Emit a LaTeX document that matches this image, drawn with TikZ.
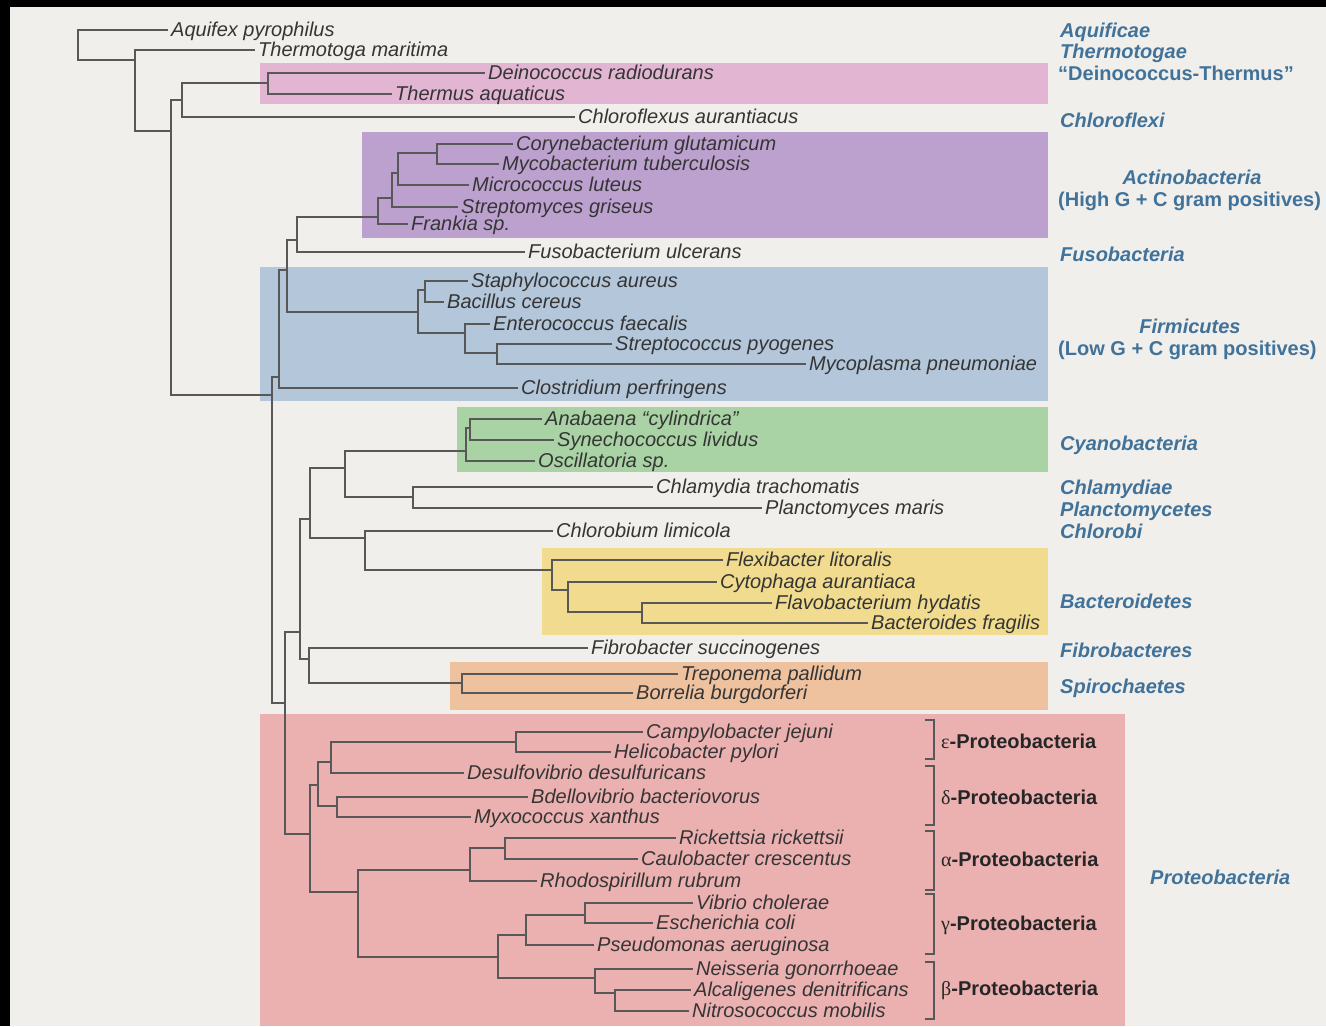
\documentclass[tikz,border=0pt]{standalone}
\usepackage{fontspec}
\setmainfont{Liberation Sans}
\newfontfamily\grkfont{Liberation Serif}
\definecolor{bgcol}{HTML}{F1EFEB}
\definecolor{linegray}{HTML}{585858}
\definecolor{leafgray}{HTML}{353535}
\definecolor{grpblue}{HTML}{40729A}
\definecolor{cDein}{HTML}{E2B5D2}
\definecolor{cActi}{HTML}{BCA1CF}
\definecolor{cFirm}{HTML}{B3C6DA}
\definecolor{cCyan}{HTML}{A9D3A4}
\definecolor{cBact}{HTML}{F0DB8E}
\definecolor{cSpir}{HTML}{EEC19F}
\definecolor{cProt}{HTML}{EBB1B1}
\newcommand\clade[3]{\draw[br] (#2) -| (#1 |- #3) -- (#3);}
\newcommand\leafnode[4]{\coordinate (#1-e) at (#2,#3);
  \node[leaf] (#1) at ([yshift=-6.5pt]#1-e) {#4};}
\begin{document}
\begin{tikzpicture}[x=1pt,y=-1pt,
  br/.style={draw=linegray, line width=1.25pt},
  leaf/.style={anchor=base west, inner xsep=3pt, inner ysep=0pt, font=\fontsize{20}{22}\selectfont\itshape, text=leafgray},
  grp/.style={anchor=base west, inner sep=0pt, font=\fontsize{20}{22}\selectfont\bfseries\itshape, text=grpblue},
  grpup/.style={anchor=base west, inner sep=0pt, font=\fontsize{20}{22}\selectfont\bfseries, text=grpblue},
  sub/.style={anchor=base west, inner sep=0pt, font=\fontsize{20}{22}\selectfont\bfseries, text=black!85},
  brk/.style={draw=linegray, line width=1.2pt}]
\useasboundingbox (0,0) rectangle (1326,1026);
\fill[bgcol] (0,0) rectangle (1326,1026);
\fill[black] (0,0) rectangle (1326,7);
\fill[black] (0,0) rectangle (10,1026);
% coloured boxes
\fill[cDein] (260,63) rectangle (1048,104);
\fill[cActi] (362,132) rectangle (1048,238);
\fill[cFirm] (260,267) rectangle (1048,401);
\fill[cCyan] (457,407) rectangle (1048,472);
\fill[cBact] (542,548) rectangle (1048,635);
\fill[cSpir] (450,662) rectangle (1048,710);
\fill[cProt] (260,714) rectangle (1125,1026);
% leaves
\leafnode{aqu}{168}{30}{Aquifex pyrophilus}
\leafnode{the}{255}{50}{Thermotoga maritima}
\leafnode{dei}{485}{73}{Deinococcus radiodurans}
\leafnode{ths}{392}{94}{Thermus aquaticus}
\leafnode{chf}{575}{117}{Chloroflexus aurantiacus}
\leafnode{cor}{513}{144}{Corynebacterium glutamicum}
\leafnode{myc}{499}{164}{Mycobacterium tuberculosis}
\leafnode{mic}{469}{185}{Micrococcus luteus}
\leafnode{str}{458}{207}{Streptomyces griseus}
\leafnode{fra}{408}{224}{Frankia sp.}
\leafnode{fus}{525}{252}{Fusobacterium ulcerans}
\leafnode{sta}{468}{281}{Staphylococcus aureus}
\leafnode{bac}{444}{302}{Bacillus cereus}
\leafnode{ent}{490}{324}{Enterococcus faecalis}
\leafnode{stp}{612}{344}{Streptococcus pyogenes}
\leafnode{myp}{806}{364}{Mycoplasma pneumoniae}
\leafnode{clo}{518}{388}{Clostridium perfringens}
\leafnode{ana}{542}{419}{Anabaena “cylindrica”}
\leafnode{syn}{554}{440}{Synechococcus lividus}
\leafnode{osc}{535}{461}{Oscillatoria sp.}
\leafnode{chl}{653}{487}{Chlamydia trachomatis}
\leafnode{pla}{762}{508}{Planctomyces maris}
\leafnode{chb}{553}{531}{Chlorobium limicola}
\leafnode{fle}{723}{560}{Flexibacter litoralis}
\leafnode{cyt}{717}{582}{Cytophaga aurantiaca}
\leafnode{fla}{772}{603}{Flavobacterium hydatis}
\leafnode{bcf}{868}{623}{Bacteroides fragilis}
\leafnode{fib}{588}{648}{Fibrobacter succinogenes}
\leafnode{tre}{678}{674}{Treponema pallidum}
\leafnode{bor}{633}{693}{Borrelia burgdorferi}
\leafnode{cam}{643}{732}{Campylobacter jejuni}
\leafnode{hel}{611}{752}{Helicobacter pylori}
\leafnode{des}{464}{773}{Desulfovibrio desulfuricans}
\leafnode{bde}{528}{797}{Bdellovibrio bacteriovorus}
\leafnode{myx}{471}{817}{Myxococcus xanthus}
\leafnode{ric}{676}{838}{Rickettsia rickettsii}
\leafnode{cau}{638}{859}{Caulobacter crescentus}
\leafnode{rho}{537}{881}{Rhodospirillum rubrum}
\leafnode{vib}{693}{903}{Vibrio cholerae}
\leafnode{esc}{653}{923}{Escherichia coli}
\leafnode{pse}{594}{945}{Pseudomonas aeruginosa}
\leafnode{nei}{693}{969}{Neisseria gonorrhoeae}
\leafnode{alc}{691}{990}{Alcaligenes denitrificans}
\leafnode{nit}{689}{1011}{Nitrosococcus mobilis}
% internal nodes
\coordinate (r0) at (78,30);
\coordinate (n1) at (135,60);
\coordinate (n2) at (171,131);
\coordinate (n3) at (182,100);
\coordinate (n5) at (268,83);
\coordinate (n4) at (272,395);
\coordinate (n6) at (279,377);
\coordinate (n8) at (287,270);
\coordinate (n9) at (297,240);
\coordinate (n11) at (378,217);
\coordinate (n12) at (392,198);
\coordinate (n13) at (398,173);
\coordinate (n14) at (437,153);
\coordinate (n10) at (418,312);
\coordinate (n15) at (425,290);
\coordinate (n16) at (465,333);
\coordinate (n17) at (497,353);
\coordinate (n7) at (285,703);
\coordinate (n18) at (300,632);
\coordinate (n20) at (310,519);
\coordinate (n22) at (345,468);
\coordinate (n24) at (466,451);
\coordinate (n26) at (470,428);
\coordinate (n25) at (413,497);
\coordinate (n23) at (365,538);
\coordinate (n27) at (552,570);
\coordinate (n28) at (568,590);
\coordinate (n29) at (642,612);
\coordinate (n21) at (309,659);
\coordinate (n30) at (462,683);
\coordinate (n19) at (310,834);
\coordinate (n31) at (318,785);
\coordinate (n33) at (331,762);
\coordinate (n35) at (516,742);
\coordinate (n34) at (337,806);
\coordinate (n32) at (358,892);
\coordinate (n36) at (470,870);
\coordinate (n38) at (505,848);
\coordinate (n37) at (498,957);
\coordinate (n39) at (526,935);
\coordinate (n42) at (585,915);
\coordinate (n40) at (595,978);
\coordinate (n41) at (615,993);
% branches
\clade{r0}{aqu-e}{n1}
\clade{n1}{the-e}{n2}
\clade{n2}{n3}{n4}
\clade{n3}{n5}{chf-e}
\clade{n5}{dei-e}{ths-e}
\clade{n4}{n6}{n7}
\clade{n6}{n8}{clo-e}
\clade{n8}{n9}{n10}
\clade{n9}{n11}{fus-e}
\clade{n11}{n12}{fra-e}
\clade{n12}{n13}{str-e}
\clade{n13}{n14}{mic-e}
\clade{n14}{cor-e}{myc-e}
\clade{n10}{n15}{n16}
\clade{n15}{sta-e}{bac-e}
\clade{n16}{ent-e}{n17}
\clade{n17}{stp-e}{myp-e}
\clade{n7}{n18}{n19}
\clade{n18}{n20}{n21}
\clade{n20}{n22}{n23}
\clade{n22}{n24}{n25}
\clade{n24}{n26}{osc-e}
\clade{n26}{ana-e}{syn-e}
\clade{n25}{chl-e}{pla-e}
\clade{n23}{chb-e}{n27}
\clade{n27}{fle-e}{n28}
\clade{n28}{cyt-e}{n29}
\clade{n29}{fla-e}{bcf-e}
\clade{n21}{fib-e}{n30}
\clade{n30}{tre-e}{bor-e}
\clade{n19}{n31}{n32}
\clade{n31}{n33}{n34}
\clade{n33}{n35}{des-e}
\clade{n35}{cam-e}{hel-e}
\clade{n34}{bde-e}{myx-e}
\clade{n32}{n36}{n37}
\clade{n36}{n38}{rho-e}
\clade{n38}{ric-e}{cau-e}
\clade{n37}{n39}{n40}
\clade{n39}{n42}{pse-e}
\clade{n42}{vib-e}{esc-e}
\clade{n40}{nei-e}{n41}
\clade{n41}{alc-e}{nit-e}
% group labels
\node[grp] (gAqu) at (1060,37) {Aquificae};
\node[grp] (gThe) at (1060,58) {Thermotogae};
\node[grpup] (gDei) at (1058,80) {“Deinococcus-Thermus”};
\node[grp] (gChf) at (1060,127) {Chloroflexi};
\node[grp,anchor=base] (gAct) at (1192,184) {Actinobacteria};
\node[grpup] (gHigh) at (1058,206) {(High G + C gram positives)};
\node[grp] (gFus) at (1060,261) {Fusobacteria};
\node[grp,anchor=base] (gFir) at (1190,333) {Firmicutes};
\node[grpup] (gLow) at (1058,355) {(Low G + C gram positives)};
\node[grp] (gCya) at (1060,450) {Cyanobacteria};
\node[grp] (gChl) at (1060,494) {Chlamydiae};
\node[grp] (gPla) at (1060,516) {Planctomycetes};
\node[grp] (gChb) at (1060,538) {Chlorobi};
\node[grp] (gBac) at (1060,608) {Bacteroidetes};
\node[grp] (gFib) at (1060,657) {Fibrobacteres};
\node[grp] (gSpi) at (1060,693) {Spirochaetes};
\node[grp] (gPro) at (1150,884) {Proteobacteria};
% proteobacteria subgroups
\node[sub] (sEps) at (941,748) {{\grkfont\mdseries ε}-Proteobacteria};
\node[sub] (sDel) at (941,804) {{\grkfont\mdseries δ}-Proteobacteria};
\node[sub] (sAlp) at (941,866) {{\grkfont\mdseries α}-Proteobacteria};
\node[sub] (sGam) at (941,930) {{\grkfont\mdseries γ}-Proteobacteria};
\node[sub] (sBet) at (941,995) {{\grkfont\mdseries β}-Proteobacteria};
\draw[brk] (925,720) -- (934,720) -- (934,759) -- (925,759);
\draw[brk] (925,766) -- (934,766) -- (934,825) -- (925,825);
\draw[brk] (925,831) -- (934,831) -- (934,890) -- (925,890);
\draw[brk] (925,894) -- (934,894) -- (934,954) -- (925,954);
\draw[brk] (925,962) -- (934,962) -- (934,1019) -- (925,1019);
\end{tikzpicture}
\end{document}
